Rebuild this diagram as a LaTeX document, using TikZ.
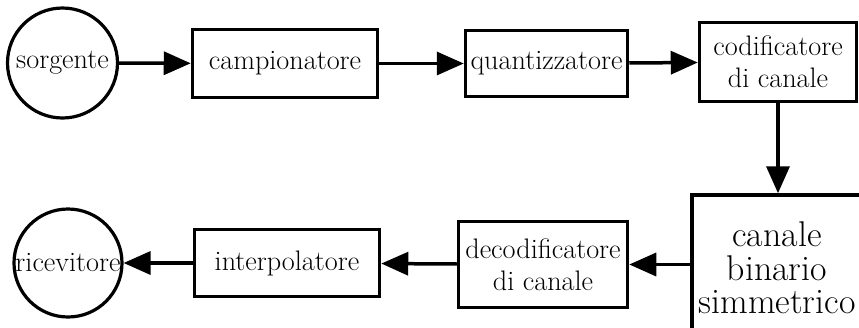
\documentclass[tikz,border=0pt]{standalone}
\usepackage{fontspec}
\usetikzlibrary{arrows.meta}
\begin{document}
\begin{tikzpicture}[x=1pt,y=-1pt,
  block/.style={draw,line width=3.5pt,inner sep=0pt,align=center,
    font=\fontsize{28.2}{32}\selectfont},
  term/.style={draw,circle,line width=3.2pt,inner sep=0pt,
    font=\fontsize{28.2}{32}\selectfont},
  flow/.style={line width=3.5pt,-{Triangle[length=27pt,width=23pt]}}]
\useasboundingbox (0,0) rectangle (859,327);
\clip (0,0) rectangle (859,327);

% transmitter chain
\node[term,minimum size=110pt] (src) at (62.5,63) {sorgente};
\node[block,minimum width=185pt,minimum height=68pt] (samp) at (285,63.5) {campionatore};
\node[block,minimum width=162pt,minimum height=66pt] (quant) at (546.5,63.5) {quantizzatore};
\node[block,minimum width=157pt,minimum height=79pt] (cod) at (778,62) {codificatore\\di canale};

% channel
\node[block,minimum width=170pt,minimum height=146pt,
  font=\fontsize{35.8}{33.5}\selectfont] (chan) at (777,268) {canale\\binario\\simmetrico};

% receiver chain
\node[block,minimum width=169pt,minimum height=86pt] (dec) at (543,264.5) {decodificatore\\di canale};
\node[block,minimum width=185pt,minimum height=67pt] (interp) at (287,263) {interpolatore};
\node[term,minimum size=108pt] (dst) at (68,263) {ricevitore};

\draw[flow] (src) -- (samp);
\draw[flow] (samp) -- (quant);
\draw[flow] (quant) -- (cod);
\draw[flow] (cod.south) -- (cod.south |- chan.north);
\draw[flow] (chan.west |- dec) -- (dec);
\draw[flow] (dec) -- (interp);
\draw[flow] (interp) -- (dst);
\end{tikzpicture}
\end{document}
